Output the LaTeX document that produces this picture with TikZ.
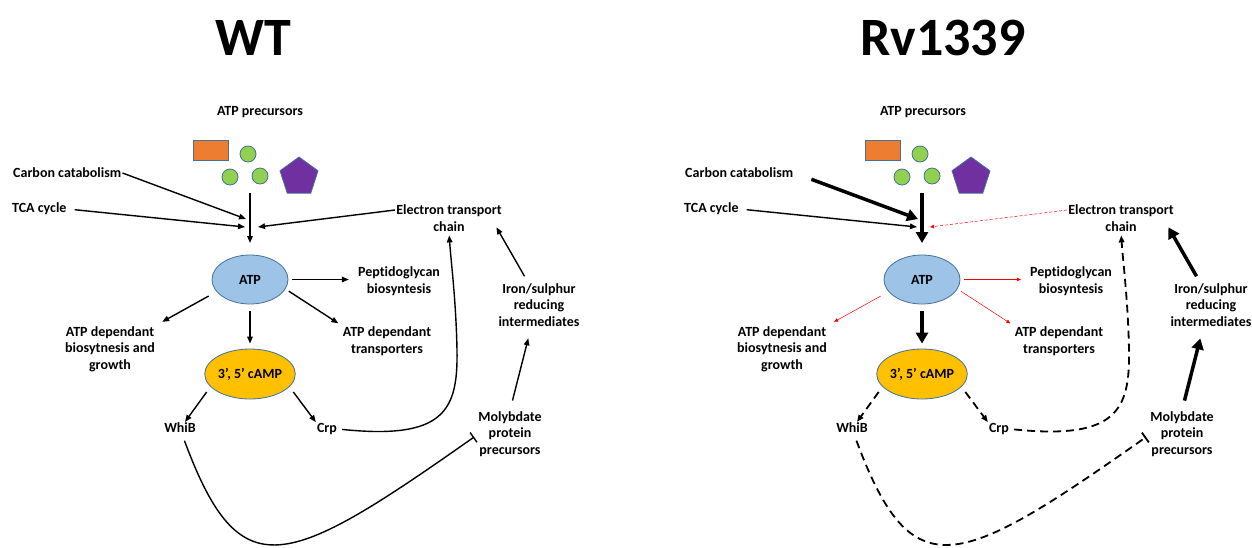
\documentclass[tikz,border=0pt]{standalone}
\usepackage{fontspec}
\setmainfont{Carlito}[Ligatures=NoCommon]
\usetikzlibrary{arrows.meta,shapes.geometric}
\definecolor{atpblue}{HTML}{9DC3E6}
\definecolor{campgold}{HTML}{FFC000}
\definecolor{edgeblue}{HTML}{41719C}
\definecolor{precorange}{HTML}{ED7D31}
\definecolor{precgreen}{HTML}{92D050}
\definecolor{precpurple}{HTML}{7030A0}
\begin{document}
\begin{tikzpicture}[x=1pt,y=-1pt,
  lbl/.style={font=\bfseries\fontsize{14}{16.5}\selectfont, align=center, inner sep=1pt},
  ttl/.style={font=\bfseries\fontsize{54}{60}\selectfont},
  shp/.style={draw=edgeblue, line width=0.8pt, inner sep=0pt},
  arr/.style={-{Triangle[length=7pt,width=5.5pt]}, line width=1.4pt},
  big/.style={-{Triangle[length=11pt,width=12pt]}, line width=3.5pt},
  weak/.style={-{Triangle[length=4pt,width=3.5pt]}, red, line width=0.5pt},
  dsh/.style={arr, line width=1.8pt, dash pattern=on 8pt off 5pt},
  tee/.style={-{Bar[width=12pt]}, line width=1.4pt},
  w-cc/.style={arr}, r-cc/.style={big, shorten <=18pt},
  w-up/.style={arr}, r-up/.style={big},
  w-use/.style={arr}, r-use/.style={weak},
  w-back/.style={arr}, r-back/.style={weak, dash pattern=on 3pt off 2pt},
  w-sig/.style={arr}, r-sig/.style={dsh},
  w-tee/.style={tee}, r-tee/.style={tee, line width=1.8pt, dash pattern=on 8pt off 5pt}]
\useasboundingbox (0,0) rectangle (1252,547);
\node[ttl] (wt) at (253,38) {WT};
\node[ttl] (rv) at (943,38) {Rv1339};
\foreach \p/\dx/\px in {w/0/260, r/672/251}{
\begin{scope}[xshift=\dx pt]
  \node[lbl] (\p-prec) at (\px,112) {ATP precursors};
  \node[shp, fill=precorange, minimum width=35pt, minimum height=20pt] (\p-rect) at (210.5,150.5) {};
  \foreach \n/\x/\y in {1/248/154, 2/230/177, 3/260/176}
    \node[shp, circle, fill=precgreen, minimum size=16pt] (\p-g\n) at (\x,\y) {};
  \node[shp, regular polygon, regular polygon sides=5, minimum size=40pt, fill=precpurple] (\p-pent) at (299,177) {};
  \coordinate (\p-top) at (250,193);
  \coordinate (\p-bot) at (250,243);
  \coordinate (\p-c1) at (246,219);
  \coordinate (\p-c2) at (245,227);
  \coordinate (\p-c3) at (258,227);
  \node[lbl, anchor=west] (\p-carbon) at (12,173) {Carbon catabolism};
  \node[lbl, anchor=west] (\p-tca) at (11,209) {TCA cycle};
  \node[lbl] (\p-etc) at (449,218) {Electron transport\\chain};
  \node[shp, ellipse, fill=atpblue, minimum width=76pt, minimum height=49pt, font=\bfseries\fontsize{14}{16}\selectfont] (\p-atp) at (250,279.5) {ATP};
  \node[shp, ellipse, fill=campgold, minimum width=76pt, minimum height=50pt, font=\bfseries\fontsize{14}{16}\selectfont] (\p-camp) at (250,374) {3’, 5’ cAMP};
  \node[lbl] (\p-pep) at (399,281) {Peptidoglycan\\biosyntesis};
  \node[lbl] (\p-trans) at (387,341) {ATP dependant\\transporters};
  \node[lbl] (\p-grow) at (110,349) {ATP dependant\\biosytnesis and\\growth};
  \node[lbl] (\p-whib) at (180,428) {WhiB};
  \node[lbl] (\p-crp) at (327,429) {Crp};
  \node[lbl] (\p-iron) at (539,305) {Iron/sulphur\\reducing\\intermediates};
  \node[lbl] (\p-moly) at (510,434) {Molybdate\\protein\\precursors};
  \draw[\p-cc] (\p-carbon.east) -- (\p-c1);
  \draw[arr, shorten <=7pt] (\p-tca.east) -- (\p-c2);
  \draw[\p-back] ([yshift=8pt]\p-etc.west) -- (\p-c3);
  \draw[\p-up] (\p-top) -- (\p-bot);
  \draw[\p-use, shorten <=4pt, shorten >=8pt] (\p-atp.east) -- (\p-atp.east -| \p-pep.west);
  \draw[\p-use, shorten <=4pt, shorten >=4pt] (\p-atp.-15) -- (\p-trans.north west);
  \draw[\p-use, shorten <=9pt, shorten >=7pt] (\p-atp.200) -- (\p-grow.north east);
  \draw[\p-up, shorten <=7pt, shorten >=5pt] (\p-atp.south) -- (\p-camp.north);
  \draw[\p-sig] ([xshift=-11pt]\p-camp.south west) -- ([xshift=5pt]\p-whib.north);
  \draw[\p-sig] ([xshift=11pt]\p-camp.south east) -- (\p-crp.north west);
  \draw[\p-sig, shorten <=4pt, shorten >=3pt] (\p-crp.east) .. controls (445,440) and (458,410) .. (457,350)
    .. controls (456,300) and (451,262) .. (\p-etc.south);
  \draw[\p-tee, shorten <=7pt] ([xshift=2pt]\p-whib.south) .. controls (240,590) and (285,570) .. ([xshift=-3pt,yshift=-3pt]\p-moly.west);
  \draw[\p-up, shorten <=10pt, shorten >=11pt] (\p-moly.north) -- ([xshift=-8pt]\p-iron.south);
  \draw[\p-up, shorten <=7pt, shorten >=1pt] ([xshift=-11pt]\p-iron.north) -- ([shift={(-7pt,6pt)}]\p-etc.south east);
\end{scope}
}
\end{tikzpicture}
\end{document}
